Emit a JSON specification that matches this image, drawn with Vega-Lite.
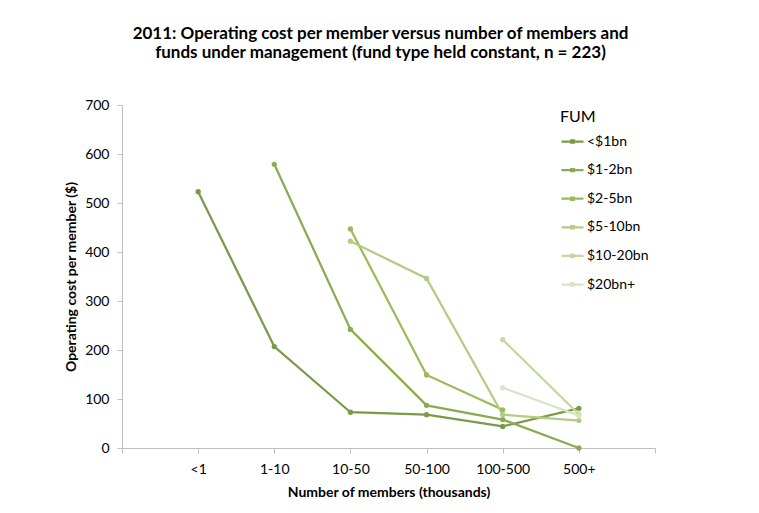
{
  "$schema": "https://vega.github.io/schema/vega-lite/v6.json",
  "autosize": {"type": "none"},
  "width": 533,
  "height": 343,
  "padding": {"left": 122, "top": 105, "right": 104, "bottom": 65},
  "background": "white",
  "title": {
    "text": ["2011: Operating cost per member versus number of members and", "funds under management (fund type held constant, n = 223)"],
    "font": "Lato",
    "fontSize": 17,
    "fontWeight": "bold",
    "color": "#000000",
    "anchor": "middle",
    "dx": -8,
    "offset": 36,
    "lineHeight": 19
  },
  "data": {
    "values": [
      {"members": "<1", "fum": "<$1bn", "cost": 523},
      {"members": "1-10", "fum": "<$1bn", "cost": 207},
      {"members": "10-50", "fum": "<$1bn", "cost": 73},
      {"members": "50-100", "fum": "<$1bn", "cost": 68},
      {"members": "100-500", "fum": "<$1bn", "cost": 44},
      {"members": "500+", "fum": "<$1bn", "cost": 81},
      {"members": "1-10", "fum": "$1-2bn", "cost": 579},
      {"members": "10-50", "fum": "$1-2bn", "cost": 242},
      {"members": "50-100", "fum": "$1-2bn", "cost": 87},
      {"members": "100-500", "fum": "$1-2bn", "cost": 58},
      {"members": "500+", "fum": "$1-2bn", "cost": 0},
      {"members": "10-50", "fum": "$2-5bn", "cost": 447},
      {"members": "50-100", "fum": "$2-5bn", "cost": 149},
      {"members": "100-500", "fum": "$2-5bn", "cost": 78},
      {"members": "10-50", "fum": "$5-10bn", "cost": 422},
      {"members": "50-100", "fum": "$5-10bn", "cost": 346},
      {"members": "100-500", "fum": "$5-10bn", "cost": 68},
      {"members": "500+", "fum": "$5-10bn", "cost": 56},
      {"members": "100-500", "fum": "$10-20bn", "cost": 221},
      {"members": "500+", "fum": "$10-20bn", "cost": 69},
      {"members": "100-500", "fum": "$20bn+", "cost": 123},
      {"members": "500+", "fum": "$20bn+", "cost": 66}
    ]
  },
  "mark": {
    "type": "line",
    "strokeWidth": 2.25,
    "point": {"filled": true, "size": 28}
  },
  "encoding": {
    "x": {
      "field": "members",
      "type": "ordinal",
      "scale": {
        "type": "point",
        "padding": 0,
        "domain": ["", "<1", "1-10", "10-50", "50-100", "100-500", "500+", " "]
      },
      "axis": {
        "title": "Number of members (thousands)",
        "labelAngle": 0,
        "domainColor": "#bfbfbf",
        "tickColor": "#bfbfbf",
        "tickSize": 5,
        "labelPadding": 9,
        "labelFont": "Lato",
        "labelFontSize": 14,
        "labelColor": "#000000",
        "titleFont": "Lato",
        "titleFontSize": 14,
        "titleFontWeight": "bold",
        "titleColor": "#000000",
        "titlePadding": 9,
        "grid": false
      }
    },
    "y": {
      "field": "cost",
      "type": "quantitative",
      "scale": {"domain": [0, 700], "nice": false},
      "axis": {
        "title": "Operating cost per member ($)",
        "values": [0, 100, 200, 300, 400, 500, 600, 700],
        "domainColor": "#bfbfbf",
        "tickColor": "#bfbfbf",
        "tickSize": 5,
        "labelPadding": 8,
        "labelFont": "Lato",
        "labelFontSize": 14,
        "labelColor": "#000000",
        "titleFont": "Lato",
        "titleFontSize": 14,
        "titleFontWeight": "bold",
        "titleColor": "#000000",
        "titlePadding": 6,
        "grid": false
      }
    },
    "color": {
      "field": "fum",
      "type": "nominal",
      "scale": {
        "domain": ["<$1bn", "$1-2bn", "$2-5bn", "$5-10bn", "$10-20bn", "$20bn+"],
        "range": ["#7b9a48", "#8aab50", "#9bbb59", "#b2cc85", "#c4d8a4", "#d8e5c4"]
      },
      "legend": {
        "title": "FUM",
        "orient": "none",
        "legendX": 438,
        "legendY": 4,
        "titleFont": "Lato",
        "titleFontSize": 16,
        "titleFontWeight": "normal",
        "titleColor": "#000000",
        "titlePadding": 4,
        "labelFont": "Lato",
        "labelFontSize": 14,
        "labelColor": "#000000",
        "labelOffset": 2,
        "rowPadding": 8.6,
        "symbolType": "M-1,0H1M-0.12,-0.1H0.12V0.1H-0.12Z",
        "symbolSize": 484,
        "symbolStrokeWidth": 2.25
      }
    }
  },
  "config": {
    "view": {"stroke": null}
  }
}
